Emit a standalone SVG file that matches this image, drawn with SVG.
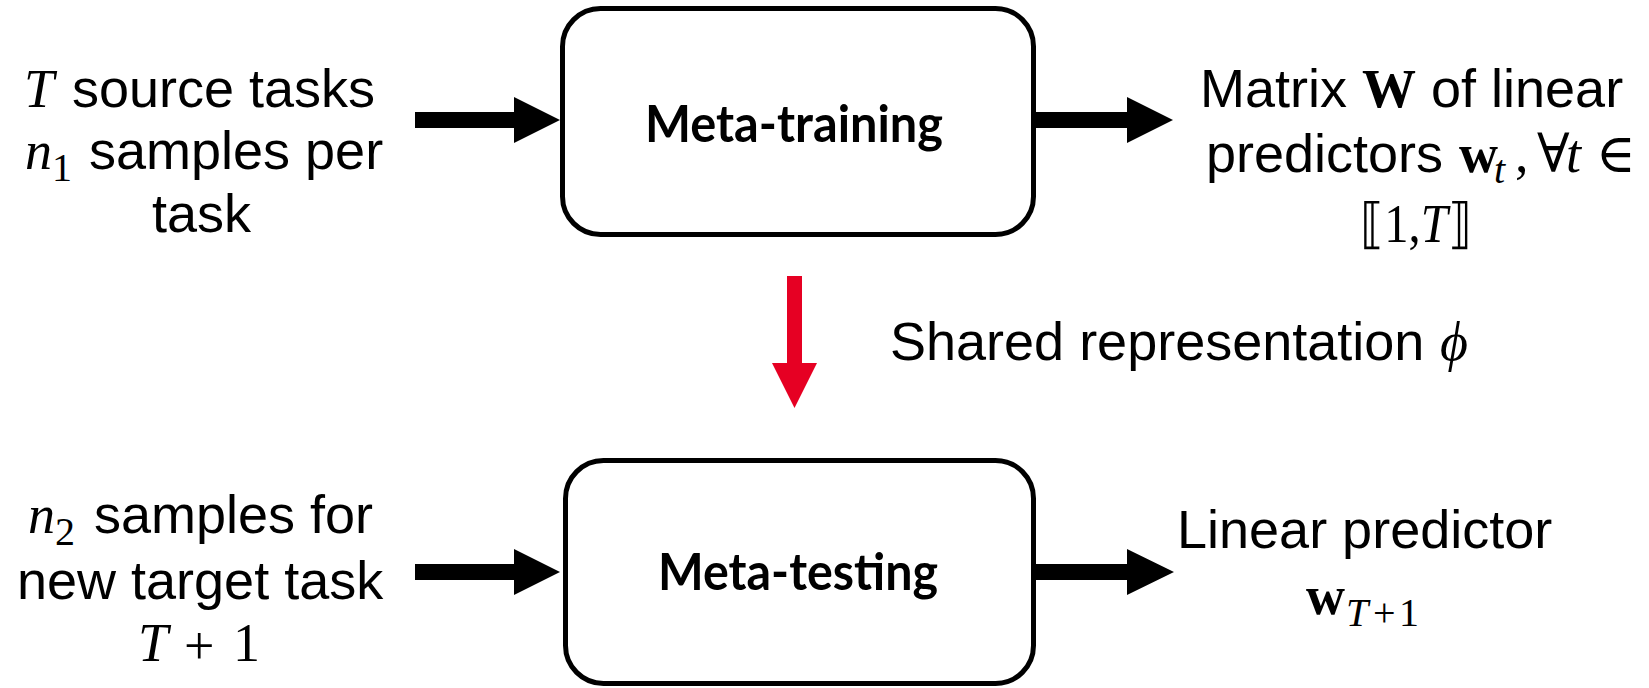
<svg xmlns="http://www.w3.org/2000/svg" width="1649" height="688" viewBox="0 0 1649 688">
<style>
.t{font-family:"Liberation Sans",Arial,sans-serif;font-size:54px;fill:#000}
.m{font-family:"Liberation Serif","DejaVu Serif",serif;font-size:54px;fill:#000}
.mi{font-family:"Liberation Serif","DejaVu Serif",serif;font-size:54px;font-style:italic;fill:#000}
.mb{font-family:"Liberation Serif","DejaVu Serif",serif;font-size:54px;font-weight:bold;fill:#000}
.sub{font-family:"Liberation Serif","DejaVu Serif",serif;font-size:40px;font-style:normal;font-weight:normal;fill:#000}
.subi{font-family:"Liberation Serif","DejaVu Serif",serif;font-size:40px;font-style:italic;font-weight:normal;fill:#000}
.box{fill:#fff;stroke:#000;stroke-width:5}
.lbl{font-family:Lato,"Open Sans",sans-serif;font-weight:bold;font-size:51px;fill:#000;text-anchor:middle}
.arr{fill:#000}
.red{fill:#E60023}
</style>
<g id="connectors">
<polygon class="arr" points="415,112 514,112 514,97 560,120 514,143 514,128 415,128"/>
<polygon class="arr" points="1036,112 1127,112 1127,97 1173,120 1127,143 1127,128 1036,128"/>
<polygon class="arr" points="415,564 514,564 514,549 560,572 514,595 514,580 415,580"/>
<polygon class="arr" points="1036,564 1127,564 1127,549 1174,572 1127,595 1127,580 1036,580"/>
<polygon class="red" points="787,276 802,276 802,363 817,363 794.5,408 772,363 787,363"/>
</g>
<g id="meta-training">
<rect class="box" x="562.5" y="8.5" width="471" height="226" rx="38"/>
<text class="lbl" x="794" y="142" textLength="298" lengthAdjust="spacingAndGlyphs">Meta-training</text>
</g>
<g id="meta-testing">
<rect class="box" x="565.5" y="460.5" width="468" height="223" rx="38"/>
<text class="lbl" x="798" y="590" textLength="280" lengthAdjust="spacingAndGlyphs">Meta-testing</text>
</g>
<g id="input-source">
<text class="mi" x="24" y="107">T</text>
<text class="t" x="72" y="107">source tasks</text>
<text class="mi" x="25" y="169">n<tspan class="sub" x="52" dy="12">1</tspan></text>
<text class="t" x="89" y="169">samples per</text>
<text class="t" x="152" y="232">task</text>
</g>
<g id="output-matrix">
<text class="t" x="1200" y="107">Matrix</text>
<text class="mb" x="1362" y="107">W</text>
<text class="t" x="1431" y="107">of linear</text>
<text class="t" x="1206" y="172">predictors</text>
<text class="mb" x="1459" y="172" font-size="50">w<tspan class="subi" x="1494" dy="11">t</tspan></text>
<text class="m" x="1515" y="172">,</text>
<text class="m" x="1537" y="172">∀</text>
<text class="mi" x="1566" y="172">t</text>
<text class="m" x="1596" y="172">∈</text>
<text class="m" x="1360" y="242" textLength="112" lengthAdjust="spacingAndGlyphs">⟦1,<tspan font-style="italic">T</tspan>⟧</text>
</g>
<g id="shared-label">
<text class="t" x="890" y="360">Shared representation</text>
<text class="mi" x="1440" y="360">ϕ</text>
</g>
<g id="input-target">
<text class="mi" x="28" y="533">n<tspan class="sub" x="55" dy="12">2</tspan></text>
<text class="t" x="94" y="533">samples for</text>
<text class="t" x="17" y="599">new target task</text>
<text class="mi" x="138" y="661">T</text>
<text class="m" x="184" y="664" font-size="68">+</text>
<text class="m" x="233" y="661">1</text>
</g>
<g id="output-linear">
<text class="t" x="1177" y="548">Linear predictor</text>
<text class="mb" x="1306" y="614">w<tspan class="subi" x="1346" dy="12">T</tspan><tspan class="sub" x="1373">+</tspan><tspan class="sub" x="1399">1</tspan></text>
</g>
</svg>
